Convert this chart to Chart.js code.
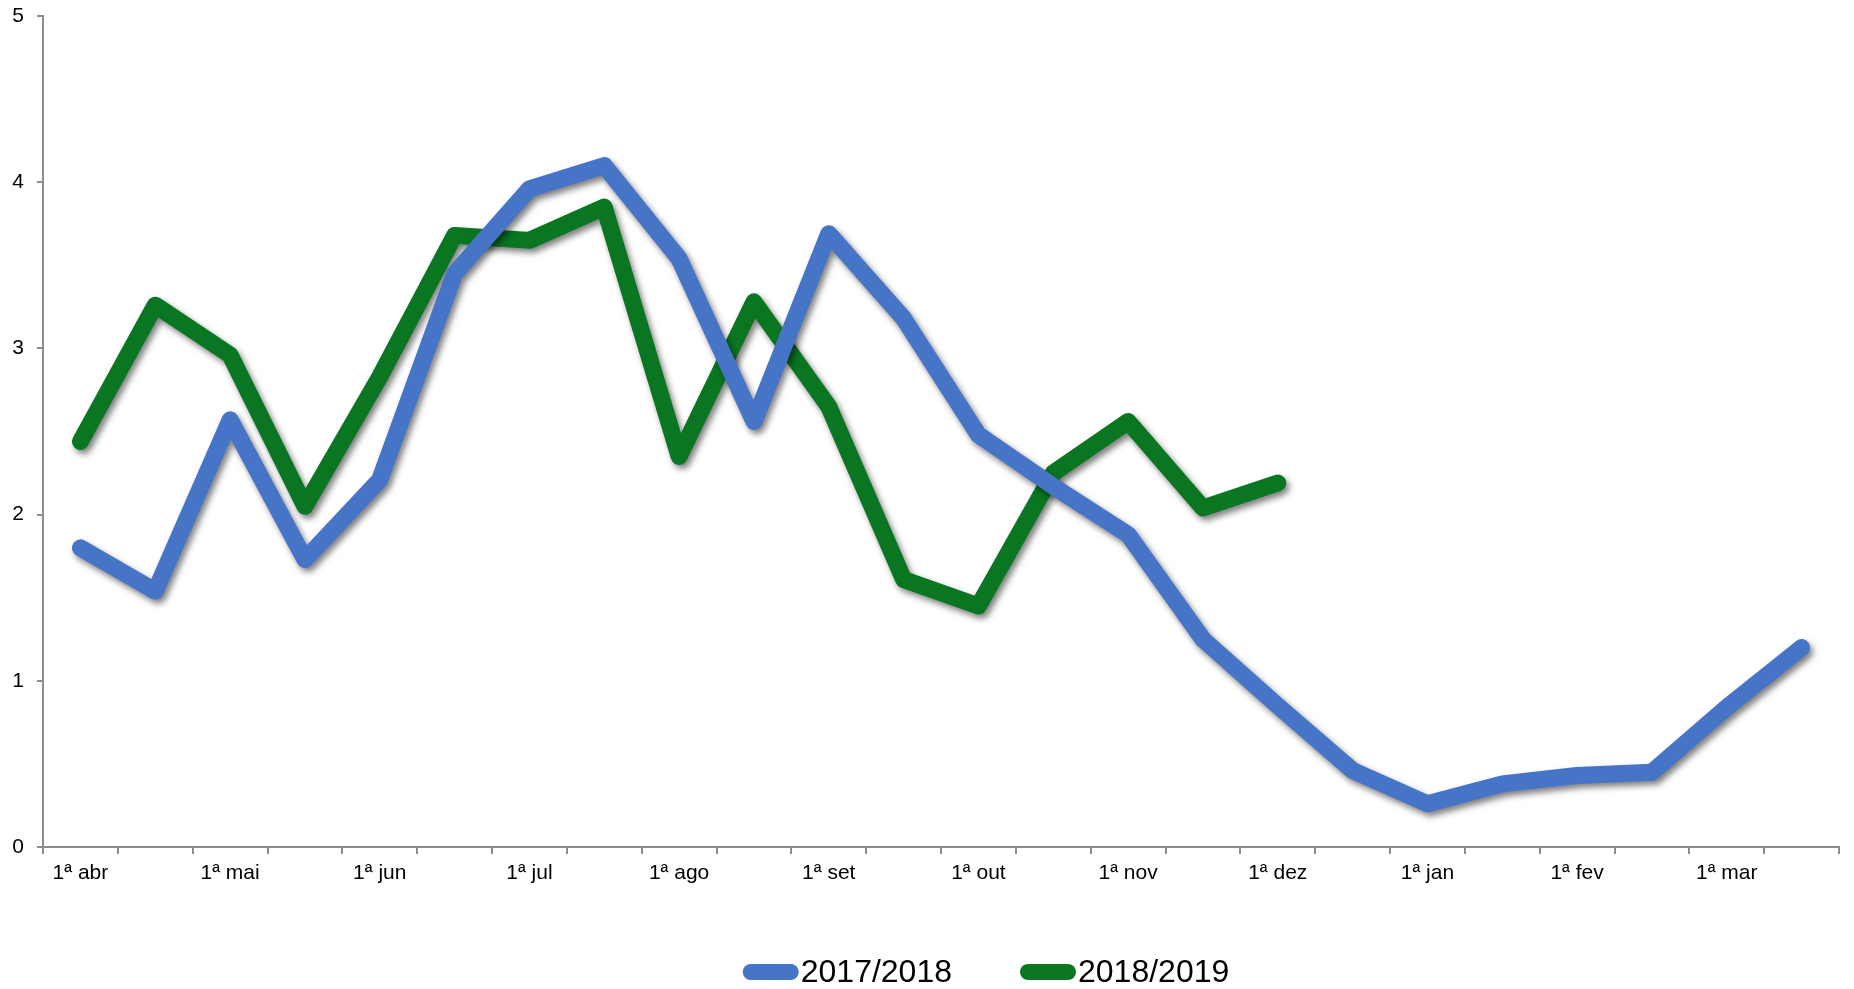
<!DOCTYPE html>
<html>
<head>
<meta charset="utf-8">
<script src="https://cdn.jsdelivr.net/npm/chart.js@4.4.1/dist/chart.umd.min.js"></script>
<style>
  html, body { margin: 0; padding: 0; background: #fff; }
  #wrap { position: relative; width: 1854px; height: 989px; }
</style>
</head>
<body>
<div id="wrap"><canvas id="chart"></canvas></div>
<script>
// 24 fortnights, April to March; only the first of each month is labelled
var categories = [
    '1ª abr', '', '1ª mai', '', '1ª jun', '', '1ª jul', '', '1ª ago', '', '1ª set', '',
    '1ª out', '', '1ª nov', '', '1ª dez', '', '1ª jan', '', '1ª fev', '', '1ª mar', ''
];

var season1718 = [1.80, 1.54, 2.57, 1.73, 2.21, 3.45, 3.96, 4.10, 3.54, 2.56, 3.69, 3.18,
                  2.48, 2.17, 1.88, 1.25, 0.85, 0.46, 0.26, 0.38, 0.43, 0.45, 0.84, 1.20];

var season1819 = [2.44, 3.26, 2.96, 2.05, 2.83, 3.68, 3.65, 3.85, 2.35, 3.28, 2.65, 1.61,
                  1.45, 2.25, 2.56, 2.04, 2.19];

var yTicks = [0, 1, 2, 3, 4, 5];

var AXIS_GREY = '#8c8c8c';
var FONT = '"Liberation Sans", Arial, sans-serif';

// soft drop shadow under the thick lines
var shadowPlugin = {
    id: 'lineShadow',
    beforeDatasetsDraw: function (chart) {
        var ctx = chart.ctx;
        ctx.save();
        ctx.shadowColor = 'rgba(0,0,0,0.5)';
        ctx.shadowBlur = 6;
        ctx.shadowOffsetX = 3;
        ctx.shadowOffsetY = 4;
    },
    afterDatasetsDraw: function (chart) {
        chart.ctx.restore();
    }
};

// legend drawn by hand: line sample then text right after it, like the original
var legendPlugin = {
    id: 'bottomLegend',
    afterDraw: function (chart) {
        var ctx = chart.ctx;
        var sample = 56, gap = 68, thick = 16;
        var y = chart.height - 17;
        ctx.save();
        ctx.font = '32px ' + FONT;
        ctx.textBaseline = 'middle';
        ctx.textAlign = 'left';

        var total = 0;
        chart.data.datasets.forEach(function (ds, i) {
            total += sample + 2 + ctx.measureText(ds.label).width + (i > 0 ? gap : 0);
        });
        var x = 986 - total / 2;

        chart.data.datasets.forEach(function (ds, i) {
            if (i > 0) x += gap;
            ctx.strokeStyle = ds.borderColor;
            ctx.lineWidth = thick;
            ctx.lineCap = 'round';
            ctx.beginPath();
            ctx.moveTo(x + thick / 2, y);
            ctx.lineTo(x + sample - thick / 2, y);
            ctx.stroke();
            x += sample + 2;
            ctx.fillStyle = '#000';
            ctx.fillText(ds.label, x, y + 1);
            x += ctx.measureText(ds.label).width;
        });
        ctx.restore();
    }
};

new Chart(document.getElementById('chart').getContext('2d'), {
    type: 'line',
    data: {
        labels: categories,
        datasets: [{
            label: '2017/2018',
            data: season1718,
            borderColor: '#4674c6',
            backgroundColor: '#4674c6',
            borderWidth: 17,
            borderCapStyle: 'round',
            borderJoinStyle: 'round',
            pointRadius: 0,
            tension: 0
        }, {
            label: '2018/2019',
            data: season1819,
            borderColor: '#0a7621',
            backgroundColor: '#0a7621',
            borderWidth: 17,
            borderCapStyle: 'round',
            borderJoinStyle: 'round',
            pointRadius: 0,
            tension: 0
        }]
    },
    options: {
        responsive: true,
        maintainAspectRatio: false,
        animation: false,
        layout: { padding: { top: 16, right: 15, left: 0, bottom: 0 } },
        plugins: {
            tooltip: { enabled: false },
            legend: { display: false }
        },
        scales: {
            x: {
                offset: true,
                grid: {
                    offset: true,
                    drawOnChartArea: false,
                    color: AXIS_GREY,
                    lineWidth: 2,
                    tickLength: 7
                },
                border: { color: AXIS_GREY, width: 2 },
                ticks: {
                    autoSkip: false,
                    maxRotation: 0,
                    padding: 7,
                    color: '#000',
                    font: { family: FONT, size: 21 }
                },
                afterFit: function (scale) { scale.height = 142; }
            },
            y: {
                min: 0,
                max: 5,
                afterBuildTicks: function (scale) {
                    scale.ticks = yTicks.map(function (v) { return { value: v }; });
                },
                grid: {
                    drawOnChartArea: false,
                    color: AXIS_GREY,
                    lineWidth: 2,
                    tickLength: 6
                },
                border: { color: AXIS_GREY, width: 2 },
                ticks: {
                    padding: 13,
                    color: '#000',
                    font: { family: FONT, size: 21 }
                },
                afterFit: function (scale) {
                    scale.width = 43;
                    scale.paddingTop = 0;
                    scale.paddingBottom = 0;
                }
            }
        }
    },
    plugins: [shadowPlugin, legendPlugin]
});
</script>
</body>
</html>
